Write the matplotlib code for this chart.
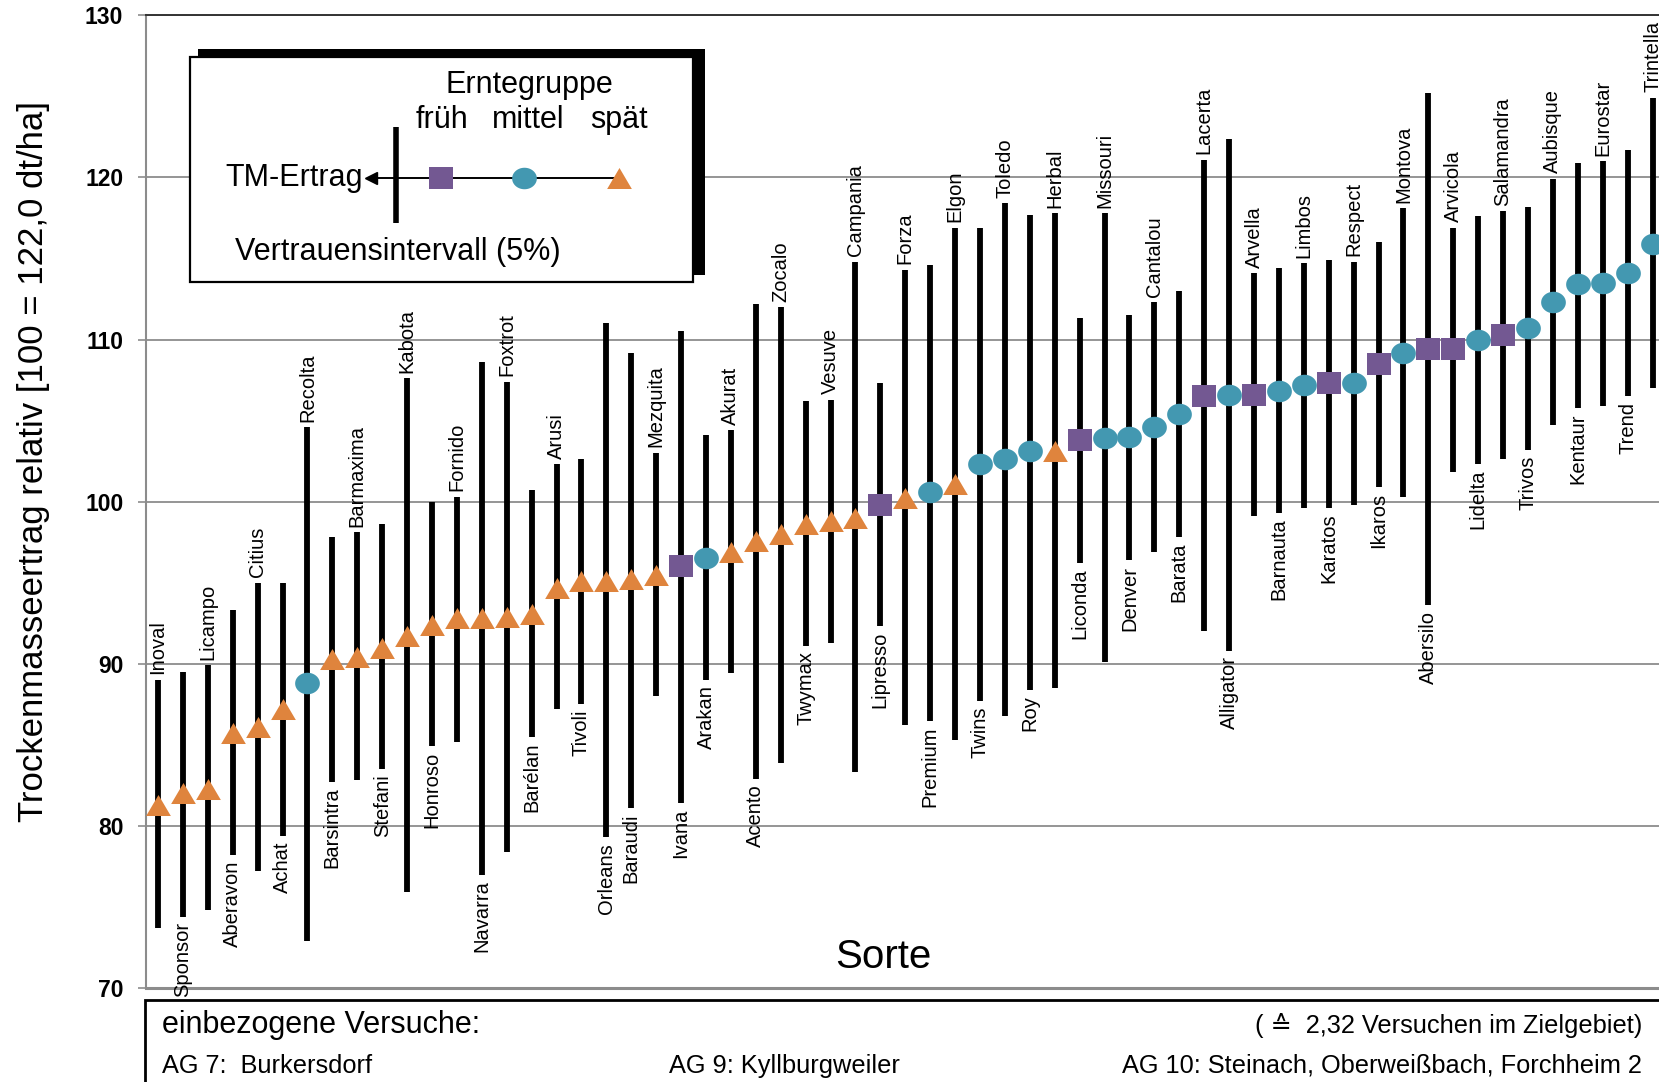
import numpy as np
import matplotlib
matplotlib.use("Agg")
import matplotlib.pyplot as plt
from matplotlib.path import Path
from matplotlib.lines import Line2D
from matplotlib.patches import Rectangle

plt.rcParams['font.family'] = ['Liberation Sans', 'DejaVu Sans']

# Sorten, sortiert nach relativem TM-Ertrag
sorten = ['Inoval', 'Sponsor', 'Licampo', 'Aberavon', 'Citius', 'Achat', 'Recolta',
          'Barsintra', 'Barmaxima', 'Stefani', 'Kabota', 'Honroso', 'Fornido', 'Navarra',
          'Foxtrot', 'Barélan', 'Arusi', 'Tivoli', 'Orleans', 'Baraudi', 'Mezquita',
          'Ivana', 'Arakan', 'Akurat', 'Acento', 'Zocalo', 'Twymax', 'Vesuve', 'Campania',
          'Lipresso', 'Forza', 'Premium', 'Elgon', 'Twins', 'Toledo', 'Roy', 'Herbal',
          'Liconda', 'Missouri', 'Denver', 'Cantalou', 'Barata', 'Lacerta', 'Alligator',
          'Arvella', 'Barnauta', 'Limbos', 'Karatos', 'Respect', 'Ikaros', 'Montova',
          'Abersilo', 'Arvicola', 'Lidelta', 'Salamandra', 'Trivos', 'Aubisque', 'Kentaur',
          'Eurostar', 'Trend', 'Trintella']

# Erntegruppe: f = früh, m = mittel, s = spät
gruppe = ['s', 's', 's', 's', 's', 's', 'm', 's', 's', 's', 's', 's', 's', 's', 's', 's',
          's', 's', 's', 's', 's', 'f', 'm', 's', 's', 's', 's', 's', 's', 'f', 's', 'm',
          's', 'm', 'm', 'm', 's', 'f', 'm', 'm', 'm', 'm', 'f', 'm', 'f', 'm', 'm', 'f',
          'm', 'f', 'm', 'f', 'f', 'm', 'f', 'm', 'm', 'm', 'm', 'm', 'm']

# TM-Ertrag relativ und Vertrauensintervall (5%)
ertrag = [81.3, 82.0, 82.3, 85.7, 86.1, 87.2, 88.8, 90.3, 90.4, 91.0, 91.7, 92.4, 92.8,
          92.8, 92.9, 93.1, 94.7, 95.1, 95.1, 95.2, 95.5, 96.0, 96.5, 96.9, 97.6, 98.0,
          98.6, 98.8, 99.0, 99.8, 100.2, 100.6, 101.1, 102.3, 102.6, 103.1, 103.1, 103.8,
          103.9, 104.0, 104.6, 105.4, 106.5, 106.6, 106.6, 106.8, 107.2, 107.3, 107.3,
          108.5, 109.2, 109.4, 109.4, 110.0, 110.3, 110.7, 112.3, 113.4, 113.5, 114.1, 115.9]
ki_unten = [73.7, 74.4, 74.8, 78.2, 77.2, 79.4, 72.9, 82.7, 82.8, 83.5, 75.9, 84.9, 85.2,
            77.0, 78.4, 85.5, 87.2, 87.5, 79.3, 81.1, 88.0, 81.4, 89.0, 89.4, 82.9, 83.9,
            91.1, 91.3, 83.3, 92.3, 86.2, 86.5, 85.3, 87.7, 86.8, 88.4, 88.5, 96.2, 90.1,
            96.4, 96.9, 97.8, 92.0, 90.8, 99.1, 99.3, 99.6, 99.6, 99.8, 100.9, 100.3, 93.6,
            101.8, 102.3, 102.6, 103.2, 104.7, 105.8, 105.9, 106.5, 107.0]
ki_oben = [89.0, 89.5, 89.9, 93.3, 95.0, 95.0, 104.6, 97.8, 98.1, 98.6, 107.6, 100.0, 100.3,
           108.6, 107.4, 100.7, 102.3, 102.6, 111.0, 109.2, 103.0, 110.5, 104.1, 104.4,
           112.2, 112.0, 106.2, 106.3, 114.8, 107.3, 114.3, 114.6, 116.9, 116.9, 118.4,
           117.7, 117.8, 111.3, 117.8, 111.5, 112.3, 113.0, 121.1, 122.4, 114.1, 114.4,
           114.7, 114.9, 114.8, 116.0, 118.1, 125.2, 116.9, 117.6, 117.9, 118.2, 119.9,
           120.9, 121.0, 121.7, 124.9]

# Beschriftung über (o) oder unter (u) dem Balken
lage = ['o', 'u', 'o', 'u', 'o', 'u', 'o', 'u', 'o', 'u', 'o', 'u', 'o', 'u', 'o', 'u',
        'o', 'u', 'u', 'u', 'o', 'u', 'u', 'o', 'u', 'o', 'u', 'o', 'o', 'u', 'o', 'u',
        'o', 'u', 'o', 'u', 'o', 'u', 'o', 'u', 'o', 'u', 'o', 'u', 'o', 'u', 'o', 'u',
        'o', 'u', 'o', 'u', 'o', 'u', 'o', 'u', 'o', 'u', 'o', 'u', 'o']

farbe = {'f': '#735892', 'm': '#4398B1', 's': '#DF843D'}

# gestauchte Marker (Ellipse, Rechteck, Dreieck)
asp = 0.87
t = np.linspace(0, 2 * np.pi, 73)
ellipse = Path(np.column_stack([np.cos(t), asp * np.sin(t)]), closed=True)
rechteck = Path([(-1, -asp), (1, -asp), (1, asp), (-1, asp), (-1, -asp)], closed=True)
dreieck = Path([(0, 0.85), (-1, -0.85), (1, -0.85), (0, 0.85)], closed=True)
marker = {'f': rechteck, 'm': ellipse, 's': dreieck}
msize = {'f': 17.5, 'm': 17.8, 's': 17.8}

W, H = 1659, 1082
fig = plt.figure(figsize=(W / 100, H / 100), dpi=100)

def fx(px):
    return px / W

def fy(py):
    return 1 - py / H

ax = fig.add_axes([fx(145.5), fy(988), 61.5 * 24.91 / W, (988 - 15.3) / H])
x = np.arange(len(sorten))

ax.vlines(x, ki_unten, ki_oben, color='black', lw=4.2, zorder=3)
for g in ['f', 'm', 's']:
    idx = [i for i in range(len(sorten)) if gruppe[i] == g]
    ax.plot(x[idx], np.array(ertrag)[idx], ls='none', marker=marker[g],
            markersize=msize[g], color=farbe[g], markeredgewidth=0, zorder=4)

for i, name in enumerate(sorten):
    if lage[i] == 'o':
        ax.annotate(name, (i, ki_oben[i]), xytext=(0, 4), textcoords='offset points',
                    rotation=90, ha='center', va='bottom', fontsize=14.5, annotation_clip=False)
    else:
        ax.annotate(name, (i, ki_unten[i]), xytext=(0, -4), textcoords='offset points',
                    rotation=90, ha='center', va='top', fontsize=14.5, annotation_clip=False)

ax.set_xlim(-0.5, 61)
ax.set_ylim(70, 130)
ax.set_yticks(range(70, 131, 10))
ax.set_xticks([])
ax.tick_params(axis='y', length=6, width=1.2, color='#8c8c8c', pad=10, labelsize=16.5)
for lbl in ax.get_yticklabels():
    lbl.set_fontweight('bold')
ax.grid(axis='y', color='#8c8c8c', lw=1.3, zorder=1)
ax.set_axisbelow(True)
ax.spines['right'].set_visible(False)
ax.spines['top'].set_color('#333333')
ax.spines['top'].set_linewidth(1.4)
ax.spines['bottom'].set_color('#8c8c8c')
ax.spines['bottom'].set_linewidth(2.2)
ax.spines['left'].set_color('#8c8c8c')
ax.spines['left'].set_linewidth(1.5)

fig.text(fx(34), fy(461), 'Trockenmasseertrag relativ [100 = 122,0 dt/ha]',
         rotation=90, ha='center', va='center', fontsize=25)
fig.text(fx(883), fy(957), 'Sorte', ha='center', va='center', fontsize=29)

# Legende mit Schatten
fig.add_artist(Rectangle((fx(198), fy(275)), fx(704.8) - fx(198), fy(49.3) - fy(275),
                         transform=fig.transFigure, facecolor='black', edgecolor='none', zorder=5))
fig.add_artist(Rectangle((fx(190), fy(281.5)), fx(693) - fx(190), fy(57.3) - fy(281.5),
                         transform=fig.transFigure, facecolor='white', edgecolor='black',
                         lw=1.6, zorder=6))
fs_leg = 22
fig.text(fx(529), fy(85), 'Erntegruppe', ha='center', va='center', fontsize=fs_leg, zorder=7)
fig.text(fx(442), fy(120), 'früh', ha='center', va='center', fontsize=fs_leg, zorder=7)
fig.text(fx(528), fy(120), 'mittel', ha='center', va='center', fontsize=fs_leg, zorder=7)
fig.text(fx(618.5), fy(120), 'spät', ha='center', va='center', fontsize=fs_leg, zorder=7)
fig.text(fx(363), fy(177.7), 'TM-Ertrag', ha='right', va='center', fontsize=fs_leg, zorder=7)
fig.text(fx(398), fy(252), 'Vertrauensintervall (5%)', ha='center', va='center',
         fontsize=fs_leg, zorder=7)
fig.add_artist(Line2D([fx(372), fx(618)], [fy(177.7), fy(177.7)], color='black', lw=1.4,
                      transform=fig.transFigure, zorder=7))
fig.add_artist(Line2D([fx(371)], [fy(177.7)], marker='<', markersize=8, color='black',
                      ls='none', transform=fig.transFigure, zorder=7))
fig.add_artist(Line2D([fx(396), fx(396)], [fy(127), fy(223)], color='black', lw=4.0,
                      solid_capstyle='butt', transform=fig.transFigure, zorder=7))
for g, px in [('f', 441), ('m', 524), ('s', 618.5)]:
    fig.add_artist(Line2D([fx(px)], [fy(177.7)], marker=marker[g], markersize=msize[g],
                          color=farbe[g], markeredgewidth=0, ls='none',
                          transform=fig.transFigure, zorder=8))

# Kasten mit den einbezogenen Versuchen
fig.add_artist(Rectangle((fx(145), -0.1), 1.0, fy(999.5) + 0.1, transform=fig.transFigure,
                         facecolor='none', edgecolor='black', lw=2.0, zorder=5))
fig.text(fx(162), fy(1025), 'einbezogene Versuche:', ha='left', va='center', fontsize=22)
fig.text(fx(1642), fy(1025), '( ≙  2,32 Versuchen im Zielgebiet)', ha='right', va='center',
         fontsize=18.3)
fig.text(fx(162), fy(1066), 'AG 7:  Burkersdorf', ha='left', va='center', fontsize=18.3)
fig.text(fx(669), fy(1066), 'AG 9: Kyllburgweiler', ha='left', va='center', fontsize=18.3)
fig.text(fx(1642), fy(1066), 'AG 10: Steinach, Oberweißbach, Forchheim 2', ha='right',
         va='center', fontsize=18.3)

fig.savefig('out.png', dpi=100)
